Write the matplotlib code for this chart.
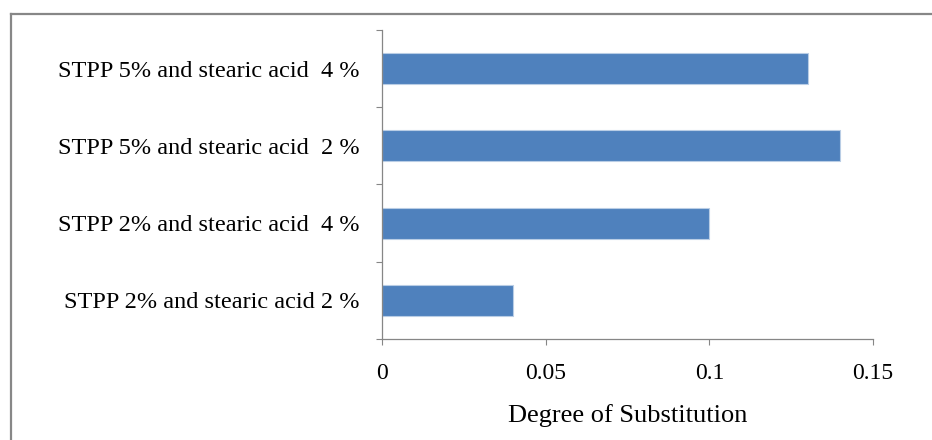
import matplotlib
matplotlib.use("Agg")
import matplotlib.pyplot as plt
from matplotlib.lines import Line2D
import numpy as np

# data, bottom to top
categories = ["STPP 2% and stearic acid 2 %",
              "STPP 2% and stearic acid  4 %",
              "STPP 5% and stearic acid  2 %",
              "STPP 5% and stearic acid  4 %"]
values = [0.04, 0.10, 0.14, 0.13]
xticks = [0, 0.05, 0.1, 0.15]
xtick_labels = ["0", "0.05", "0.1", "0.15"]

plt.rcParams['font.family'] = ['Liberation Serif', 'DejaVu Serif']

W, H = 932, 440
fig = plt.figure(figsize=(W / 100, H / 100), dpi=100)
ax = fig.add_axes([382 / W, 1 - 339 / H, (873 - 382) / W, (339 - 30) / H])

y = np.arange(len(categories))
ax.barh(y, values, height=0.4, color='#4F81BD', edgecolor='#B9CDE5', linewidth=0.8)

ax.set_xlim(0, 0.15)
ax.set_ylim(-0.5, len(categories) - 0.5)
ax.set_xticks(xticks)
ax.set_xticklabels(xtick_labels, fontsize=17)
ax.set_yticks(y)
ax.set_yticklabels(categories, fontsize=17.5)
ax.set_yticks(np.arange(-0.5, len(categories)), minor=True)
ax.tick_params(axis='y', which='major', length=0, pad=16)
ax.tick_params(axis='y', which='minor', length=4.5, color='#868686', width=0.8)
ax.tick_params(axis='x', length=4.5, color='#868686', width=0.8, pad=13)

for side in ['top', 'right']:
    ax.spines[side].set_visible(False)
for side in ['left', 'bottom']:
    ax.spines[side].set_color('#868686')
    ax.spines[side].set_linewidth(0.9)

ax.set_xlabel('Degree of Substitution', fontsize=19, labelpad=14)

# outer border (only top and left visible in the crop)
fig.add_artist(Line2D([11 / W, 1], [1 - 14 / H, 1 - 14 / H], transform=fig.transFigure,
                      color='#878787', linewidth=1.6))
fig.add_artist(Line2D([11 / W, 11 / W], [0, 1 - 14 / H], transform=fig.transFigure,
                      color='#878787', linewidth=1.6))

fig.savefig('out.png', dpi=100)
